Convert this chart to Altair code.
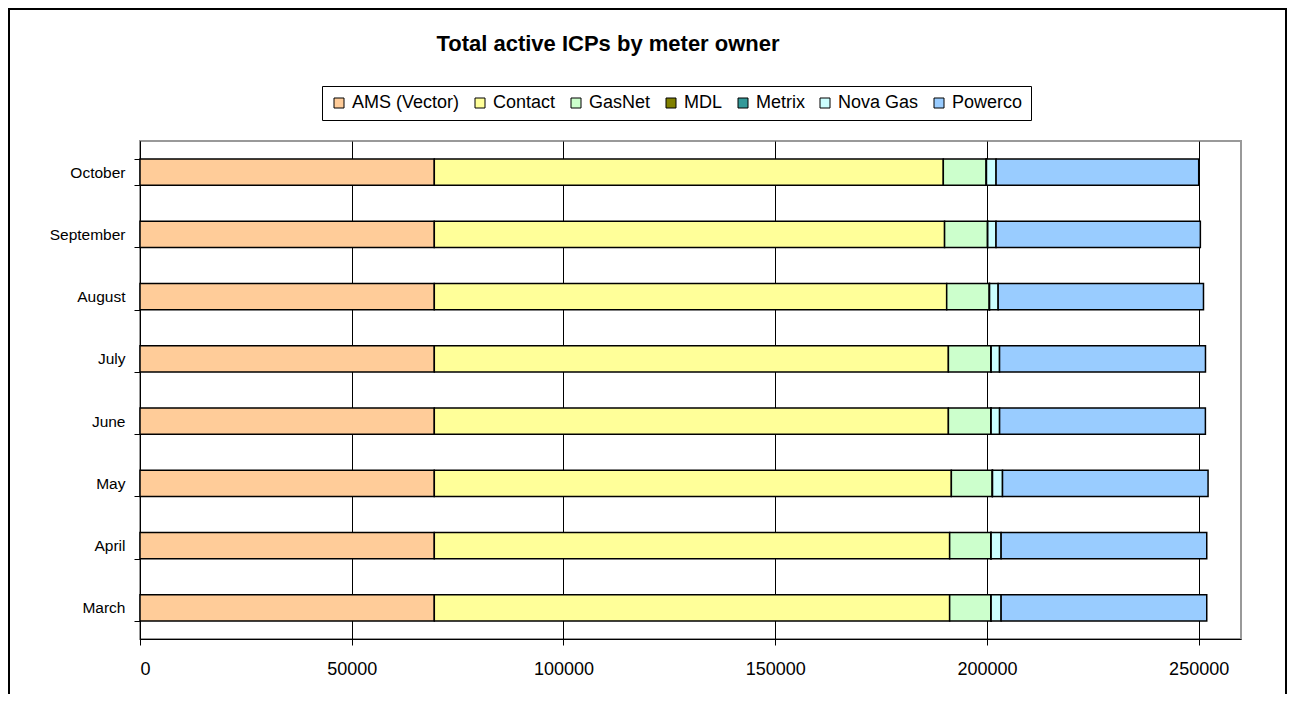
import altair as alt
import pandas as pd

months = ["October", "September", "August", "July", "June", "May", "April", "March"]
owners = ["AMS (Vector)", "Contact", "GasNet", "MDL", "Metrix", "Nova Gas", "Powerco"]
colors = ["#FFCC99", "#FFFF99", "#CCFFCC", "#808000", "#339999", "#CCFFFF", "#99CCFF"]

ams = [69500, 69500, 69500, 69500, 69500, 69500, 69500, 69500]
contact = [120200, 120500, 121000, 121400, 121400, 122100, 121700, 121700]
gasnet = [10150, 10150, 10080, 10060, 10050, 9680, 9750, 9750]
mdl = [12, 12, 12, 12, 12, 12, 12, 12]
metrix = [30, 30, 30, 30, 30, 30, 30, 30]
nova = [2270, 1960, 2030, 1980, 2000, 2360, 2360, 2360]
powerco = [47850, 48250, 48490, 48630, 48600, 48540, 48560, 48560]

x_ticks = [0, 50000, 100000, 150000, 200000, 250000]

series = [ams, contact, gasnet, mdl, metrix, nova, powerco]
rows = []
for i, (owner, vals) in enumerate(zip(owners, series)):
    for m, v in zip(months, vals):
        rows.append({"month": m, "owner": owner, "value": v, "idx": i})
df = pd.DataFrame(rows)

FONT = "Liberation Sans"

bars = alt.Chart(df).mark_bar(stroke="black", strokeWidth=1.5).encode(
    y=alt.Y("month:N", sort=months, title=None,
            scale=alt.Scale(paddingInner=0.58, paddingOuter=0.29),
            axis=alt.Axis(tickBand="extent", labelFontSize=15.5, labelFont=FONT,
                          labelColor="black", domainColor="black", tickColor="black",
                          tickSize=6, labelPadding=9, grid=False)),
    x=alt.X("value:Q", stack="zero", title=None,
            scale=alt.Scale(domain=[0, 260000], nice=False),
            axis=alt.Axis(values=x_ticks, format="d", labelFontSize=18, labelFont=FONT,
                          labelColor="black", domainColor="black", tickColor="black",
                          tickSize=6, labelPadding=15, grid=True, gridColor="black",
                          gridOpacity=1, gridWidth=1)),
    color=alt.Color("owner:N", sort=owners,
                    scale=alt.Scale(domain=owners, range=colors),
                    legend=alt.Legend(orient="none", legendX=182, legendY=-55,
                                      direction="horizontal", title=None,
                                      symbolType="square", symbolSize=100,
                                      symbolStrokeColor="black", symbolStrokeWidth=1,
                                      symbolOpacity=1,
                                      labelFontSize=18, labelFont=FONT, labelColor="black",
                                      columnPadding=11, labelOffset=4,
                                      strokeColor="black", padding=8,
                                      fillColor="white")),
    order=alt.Order("idx:Q"),
)

one = pd.DataFrame({"a": [0]})

frame = alt.Chart(one).mark_rect(fill="transparent", stroke="black", strokeWidth=2).encode(
    x=alt.value(-131), x2=alt.value(1146), y=alt.value(-132), y2=alt.value(600)
)

title = alt.Chart(one).mark_text(
    text="Total active ICPs by meter owner", font=FONT, fontSize=22,
    fontWeight="bold", color="black", align="center", baseline="middle"
).encode(x=alt.value(468), y=alt.value(-97))

chart = alt.layer(frame, bars, title).properties(
    width=1101, height=498,
    autosize=alt.AutoSizeParams(type="none"),
    padding={"left": 132, "top": 133, "right": 46, "bottom": 55},
    background="white",
).configure_view(stroke="#999999", strokeWidth=2)

chart.save("out.html", embed_options={"renderer": "svg", "actions": False})
